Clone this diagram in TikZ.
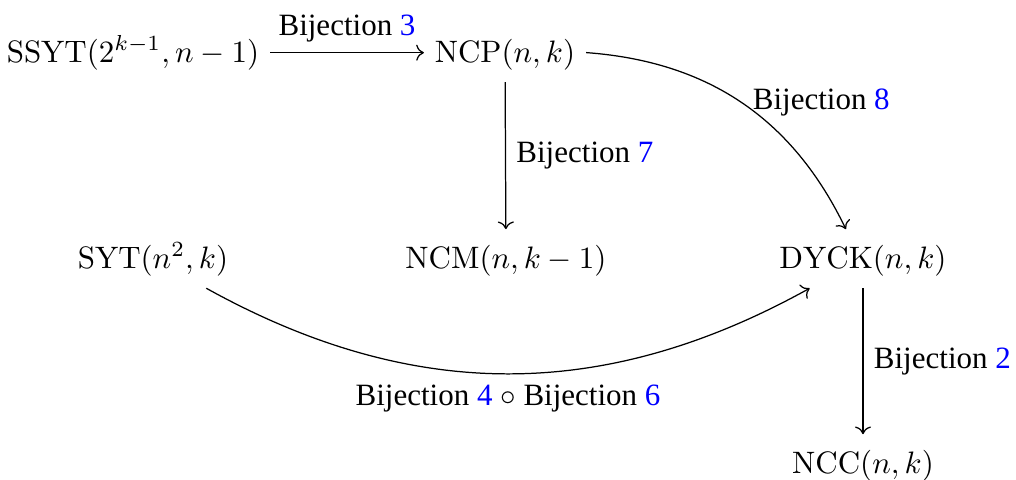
\documentclass[tikz,border=0pt]{standalone}
\usepackage{fontspec}
\newfontfamily\tms{Liberation Serif}
\usetikzlibrary{cd}
\tikzset{
  obj/.style={anchor=base, inner sep=0.333em, text height=9pt, text depth=3pt},
  arr/.style={draw, -{cm to}, line width=0.4pt},
  lbl/.style={font=\tms, inner sep=0.333em},
}
\begin{document}
\begin{tikzpicture}[x=0.3226pt,y=-0.3226pt]
\useasboundingbox (0,0) rectangle (1016,480);
\node[obj] (ssyt) at (133,62) {$\mathrm{SSYT}(2^{k-1},n-1)$};
\node[obj] (ncp) at (505,62) {$\mathrm{NCP}(n,k)$};
\node[obj] (syt) at (153,268) {$\mathrm{SYT}(n^2,k)$};
\node[obj] (ncm) at (506,268) {$\mathrm{NCM}(n,k-1)$};
\node[obj] (dyck) at (863,268) {$\mathrm{DYCK}(n,k)$};
\node[obj] (ncc) at (863,473) {$\mathrm{NCC}(n,k)$};
\draw[arr] (ssyt) -- node[lbl,above] (l3) {Bijection \textcolor{blue}{3}} (ncp);
\draw[arr] (ncp) -- node[lbl,right] (l7) {Bijection \textcolor{blue}{7}} (ncm);
\draw[arr] (ncp) to[bend left=30] node[lbl,right] (l8) {Bijection \textcolor{blue}{8}} (dyck);
\draw[arr] (syt) to[bend right=29] node[lbl,below] (l46) {Bijection \textcolor{blue}{4} $\circ$ Bijection \textcolor{blue}{6}} (dyck);
\draw[arr] (dyck) -- node[lbl,right] (l2) {Bijection \textcolor{blue}{2}} (ncc);
\end{tikzpicture}
\end{document}
